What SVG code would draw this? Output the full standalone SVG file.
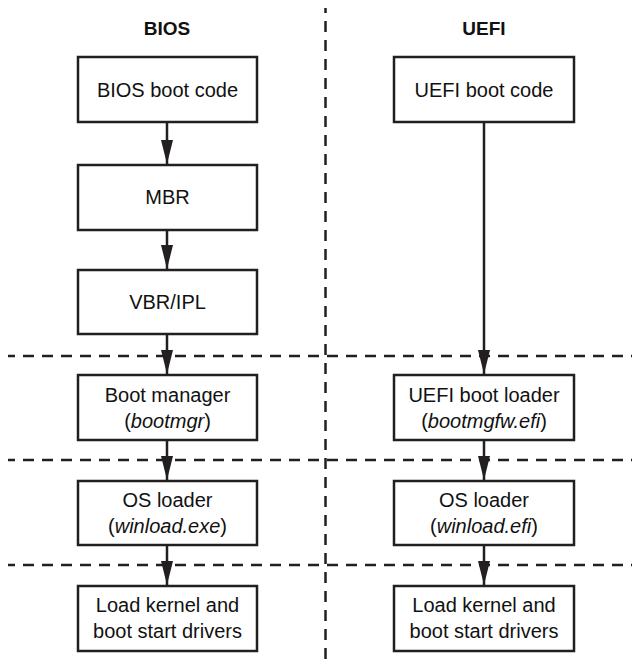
<svg xmlns="http://www.w3.org/2000/svg" width="632" height="666" viewBox="0 0 632 666">
<style>
.box{fill:#fff;stroke:#231f20;stroke-width:2.5}
.t{font-family:"Liberation Sans",Arial,sans-serif;font-size:20px;fill:#111;text-anchor:middle}
.h{font-family:"Liberation Sans",Arial,sans-serif;font-size:19px;font-weight:bold;fill:#111;text-anchor:middle}
.i{font-style:italic}
.dash{stroke:#231f20;stroke-width:2.5;fill:none;stroke-dasharray:11 8}
.arr{stroke:#231f20;stroke-width:2.5;fill:none;marker-end:url(#ah)}
</style>
<defs>
<marker id="ah" markerUnits="userSpaceOnUse" markerWidth="24" markerHeight="12" viewBox="0 0 24 12" refX="24" refY="6" orient="auto">
<path d="M0,0 L24,6 L0,12 Z" fill="#231f20"/>
</marker>
</defs>
<rect width="632" height="666" fill="#fff"/>
<g id="separators">
<line class="dash" x1="8" y1="356" x2="632" y2="356" stroke-dashoffset="4"/>
<line class="dash" x1="8" y1="460" x2="632" y2="460" stroke-dashoffset="4"/>
<line class="dash" x1="8" y1="565" x2="632" y2="565" stroke-dashoffset="4"/>
<line class="dash" x1="325.5" y1="8" x2="325.5" y2="666" stroke-dashoffset="6"/>
</g>
<g id="headers">
<text class="h" x="167" y="35">BIOS</text>
<text class="h" x="484" y="35">UEFI</text>
</g>
<g id="bios-boot-code"><rect class="box" x="78" y="57" width="179" height="65"/><text class="t" x="167.5" y="97">BIOS boot code</text></g>
<g id="mbr"><rect class="box" x="78" y="165" width="179" height="65"/><text class="t" x="167.5" y="204">MBR</text></g>
<g id="vbr-ipl"><rect class="box" x="78" y="270" width="179" height="64"/><text class="t" x="167.5" y="309">VBR/IPL</text></g>
<g id="boot-manager"><rect class="box" x="78" y="375" width="179" height="65"/><text class="t" x="167.5" y="402">Boot manager</text><text class="t" x="167.5" y="428">(<tspan class="i">bootmgr</tspan>)</text></g>
<g id="os-loader-bios"><rect class="box" x="78" y="481" width="179" height="64"/><text class="t" x="167.5" y="507">OS loader</text><text class="t" x="167.5" y="533">(<tspan class="i">winload.exe</tspan>)</text></g>
<g id="load-kernel-bios"><rect class="box" x="78" y="586" width="179" height="65"/><text class="t" x="167.5" y="612">Load kernel and</text><text class="t" x="167.5" y="638">boot start drivers</text></g>
<g id="uefi-boot-code"><rect class="box" x="394" y="57" width="180" height="65"/><text class="t" x="484" y="97">UEFI boot code</text></g>
<g id="uefi-boot-loader"><rect class="box" x="394" y="375" width="180" height="65"/><text class="t" x="484" y="402">UEFI boot loader</text><text class="t" x="484" y="428">(<tspan class="i">bootmgfw.efi</tspan>)</text></g>
<g id="os-loader-uefi"><rect class="box" x="394" y="481" width="180" height="64"/><text class="t" x="484" y="507">OS loader</text><text class="t" x="484" y="533">(<tspan class="i">winload.efi</tspan>)</text></g>
<g id="load-kernel-uefi"><rect class="box" x="394" y="586" width="180" height="65"/><text class="t" x="484" y="612">Load kernel and</text><text class="t" x="484" y="638">boot start drivers</text></g>
<g id="connectors">
<line class="arr" x1="167" y1="123" x2="167" y2="164"/>
<line class="arr" x1="167" y1="231" x2="167" y2="269"/>
<line class="arr" x1="167" y1="335" x2="167" y2="374"/>
<line class="arr" x1="167" y1="441" x2="167" y2="480"/>
<line class="arr" x1="167" y1="546" x2="167" y2="585"/>
<line class="arr" x1="484" y1="123" x2="484" y2="374"/>
<line class="arr" x1="484" y1="441" x2="484" y2="480"/>
<line class="arr" x1="484" y1="546" x2="484" y2="585"/>
</g>
</svg>
